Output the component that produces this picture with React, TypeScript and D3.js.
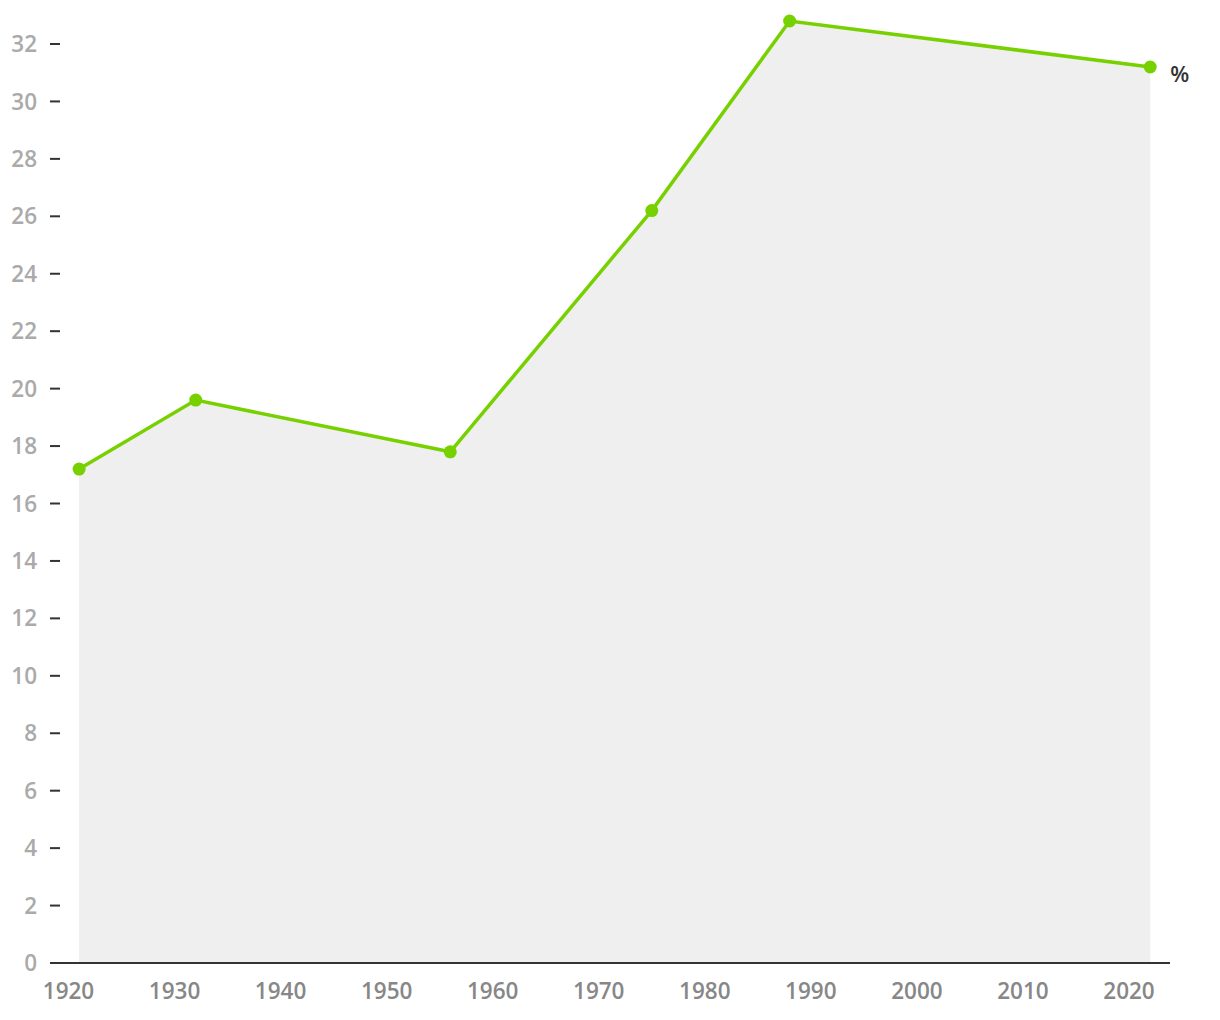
import React from "react";
import * as d3 from "d3";

const years = [1921, 1932, 1956, 1975, 1988, 2022];
const values = [17.2, 19.6, 17.8, 26.2, 32.8, 31.2];
const yTicks = d3.range(0, 33, 2);
const xTicks = d3.range(1920, 2021, 10);
const unitLabel = "%";

export default function App() {
  const W = 1220, H = 1020;
  const x = d3.scaleLinear().domain([1920, 2020]).range([68.5, 1129]);
  const y = d3.scaleLinear().domain([0, 32]).range([963, 44]);
  const data = years.map((yr, i) => ({ yr, v: values[i] }));
  const line = d3.line<any>().x(d => x(d.yr)).y(d => y(d.v));
  const area = d3.area<any>().x(d => x(d.yr)).y0(y(0)).y1(d => y(d.v));
  const font = "'Open Sans', sans-serif";
  const last = data[data.length - 1];
  return (
    <svg width={W} height={H} style={{ position: "absolute", left: 0, top: 0 }} fontFamily={font}>
      <path d={area(data) || ""} fill="#efefef" />
      {yTicks.map(t => (
        <g key={t}>
          {t > 0 && <line x1={50} x2={60} y1={y(t)} y2={y(t)} stroke="#333" strokeWidth={2} />}
          <text x={37} y={y(t)} dy="0.36em" textAnchor="end" fontSize={22.5} fontWeight={600} fill="#aaaaaa">{t}</text>
        </g>
      ))}
      <line x1={50} x2={1170} y1={y(0)} y2={y(0)} stroke="#333" strokeWidth={2} />
      {xTicks.map(t => (
        <text key={t} x={x(t)} y={999} textAnchor="middle" fontSize={22.5} fontWeight={600} fill="#878787">{t}</text>
      ))}
      <path d={line(data) || ""} fill="none" stroke="#77d100" strokeWidth={3.5} />
      {data.map((d, i) => (
        <circle key={i} cx={x(d.yr)} cy={y(d.v)} r={6.5} fill="#77d100" />
      ))}
      <text x={x(last.yr) + 20} y={y(last.v)} dy="0.7em" fontSize={22} fontWeight={600} fill="#333">{unitLabel}</text>
    </svg>
  );
}
